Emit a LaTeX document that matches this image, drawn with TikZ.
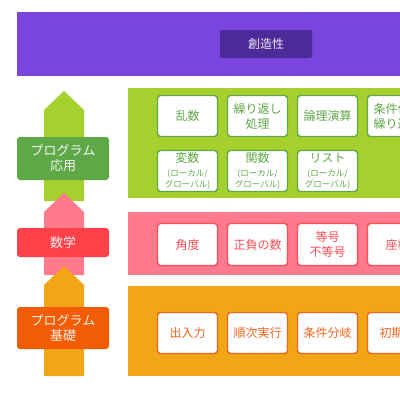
\documentclass[tikz,border=0pt]{standalone}
\usepackage{fontspec}
\setmainfont{Noto Sans CJK JP}
\usetikzlibrary{positioning}

\definecolor{creaband}{HTML}{7A45DD}
\definecolor{creabox}{HTML}{4E2A98}
\definecolor{appband}{HTML}{A6D02E}
\definecolor{applabel}{HTML}{5FA847}
\definecolor{mathband}{HTML}{FF7A8C}
\definecolor{mathlabel}{HTML}{FF414A}
\definecolor{mathline}{HTML}{FF4D55}
\definecolor{baseband}{HTML}{F0A616}
\definecolor{baselabel}{HTML}{F25C05}
\definecolor{baseline}{HTML}{F5641E}

\newcommand\sub[1]{{\fontsize{8.5}{10}\selectfont #1}}

\begin{document}
\begin{tikzpicture}[x=1pt, y=-1pt, node distance=8.6pt,
  band/.style={fill=#1, inner sep=0pt, anchor=north west},
  lvlbox/.style={fill=#1, rounded corners=3pt, minimum width=92pt, inner sep=0pt,
    text=white!92!#1, align=center, font=\fontsize{13}{15}\selectfont},
  topicbox/.style={draw=#1, line width=1.4pt, fill=white, rounded corners=3pt,
    minimum width=60pt, minimum height=41pt, inner sep=0pt,
    text=#1, align=center, font=\fontsize{12}{15}\selectfont}]
\useasboundingbox (0,0) rectangle (400,400);
\clip (0,0) rectangle (400,400);

% bands
\node[band=creaband, minimum width=400pt, minimum height=64pt] (crea) at (17,12) {};
\node[band=appband, minimum width=290pt, minimum height=110pt] (app) at (128,88) {};
\node[band=mathband, minimum width=290pt, minimum height=63pt] (math) at (128,212) {};
\node[band=baseband, minimum width=290pt, minimum height=90pt] (base) at (128,286) {};

\node[fill=creabox, rounded corners=2pt, minimum width=92pt, minimum height=28pt,
  text=white!88!creabox, font=\fontsize{12}{14}\selectfont] (creabox) at (266,44) {創造性};

% arrows (tip, shoulder, bottom)
\def\ahalf{20}
\foreach \col/\ytip/\ybot in {appband/91/201, mathband/193/275, baseband/266/376}
{
	\fill[\col] (64,\ytip) -- (64+\ahalf,\ytip+19) -- (64+\ahalf,\ybot)
		-- (64-\ahalf,\ybot) -- (64-\ahalf,\ytip+19) -- cycle;
}

\node[lvlbox=applabel, minimum height=43pt] (applbl) at (63,158.5) {プログラム\\応用};
\node[lvlbox=mathlabel, minimum height=29pt] (mathlbl) at (63,242.5) {数学};
\node[lvlbox=baselabel, minimum height=42pt] (baselbl) at (63,328) {プログラム\\基礎};

% program application
\node[topicbox=applabel] (app1) at (187.5,116) {乱数};
\foreach \txt [count=\i from 2] in {{繰り返し\\処理}, 論理演算, {条件付き\\繰り返し}}
{
	\pgfmathtruncatemacro\prev{\i-1}
	\node[topicbox=applabel, right=of app\prev] (app\i) {\txt};
}
\node[topicbox=applabel] (var1) at (187.5,171)
	{変数\\[-1.5pt]\sub{(ローカル/}\\[-4pt]\sub{グローバル)}};
\foreach \txt [count=\i from 2] in {関数, リスト}
{
	\pgfmathtruncatemacro\prev{\i-1}
	\node[topicbox=applabel, right=of var\prev] (var\i)
		{\txt\\[-1.5pt]\sub{(ローカル/}\\[-4pt]\sub{グローバル)}};
}

% math
\node[topicbox=mathline, minimum height=42pt] (math1) at (187.5,244.5) {角度};
\foreach \txt [count=\i from 2] in {正負の数, {等号\\不等号}, 座標}
{
	\pgfmathtruncatemacro\prev{\i-1}
	\node[topicbox=mathline, minimum height=42pt, right=of math\prev] (math\i) {\txt};
}

% program basics
\node[topicbox=baseline] (base1) at (187.5,333) {出入力};
\foreach \txt [count=\i from 2] in {順次実行, 条件分岐, 初期化}
{
	\pgfmathtruncatemacro\prev{\i-1}
	\node[topicbox=baseline, right=of base\prev] (base\i) {\txt};
}

\end{tikzpicture}
\end{document}
